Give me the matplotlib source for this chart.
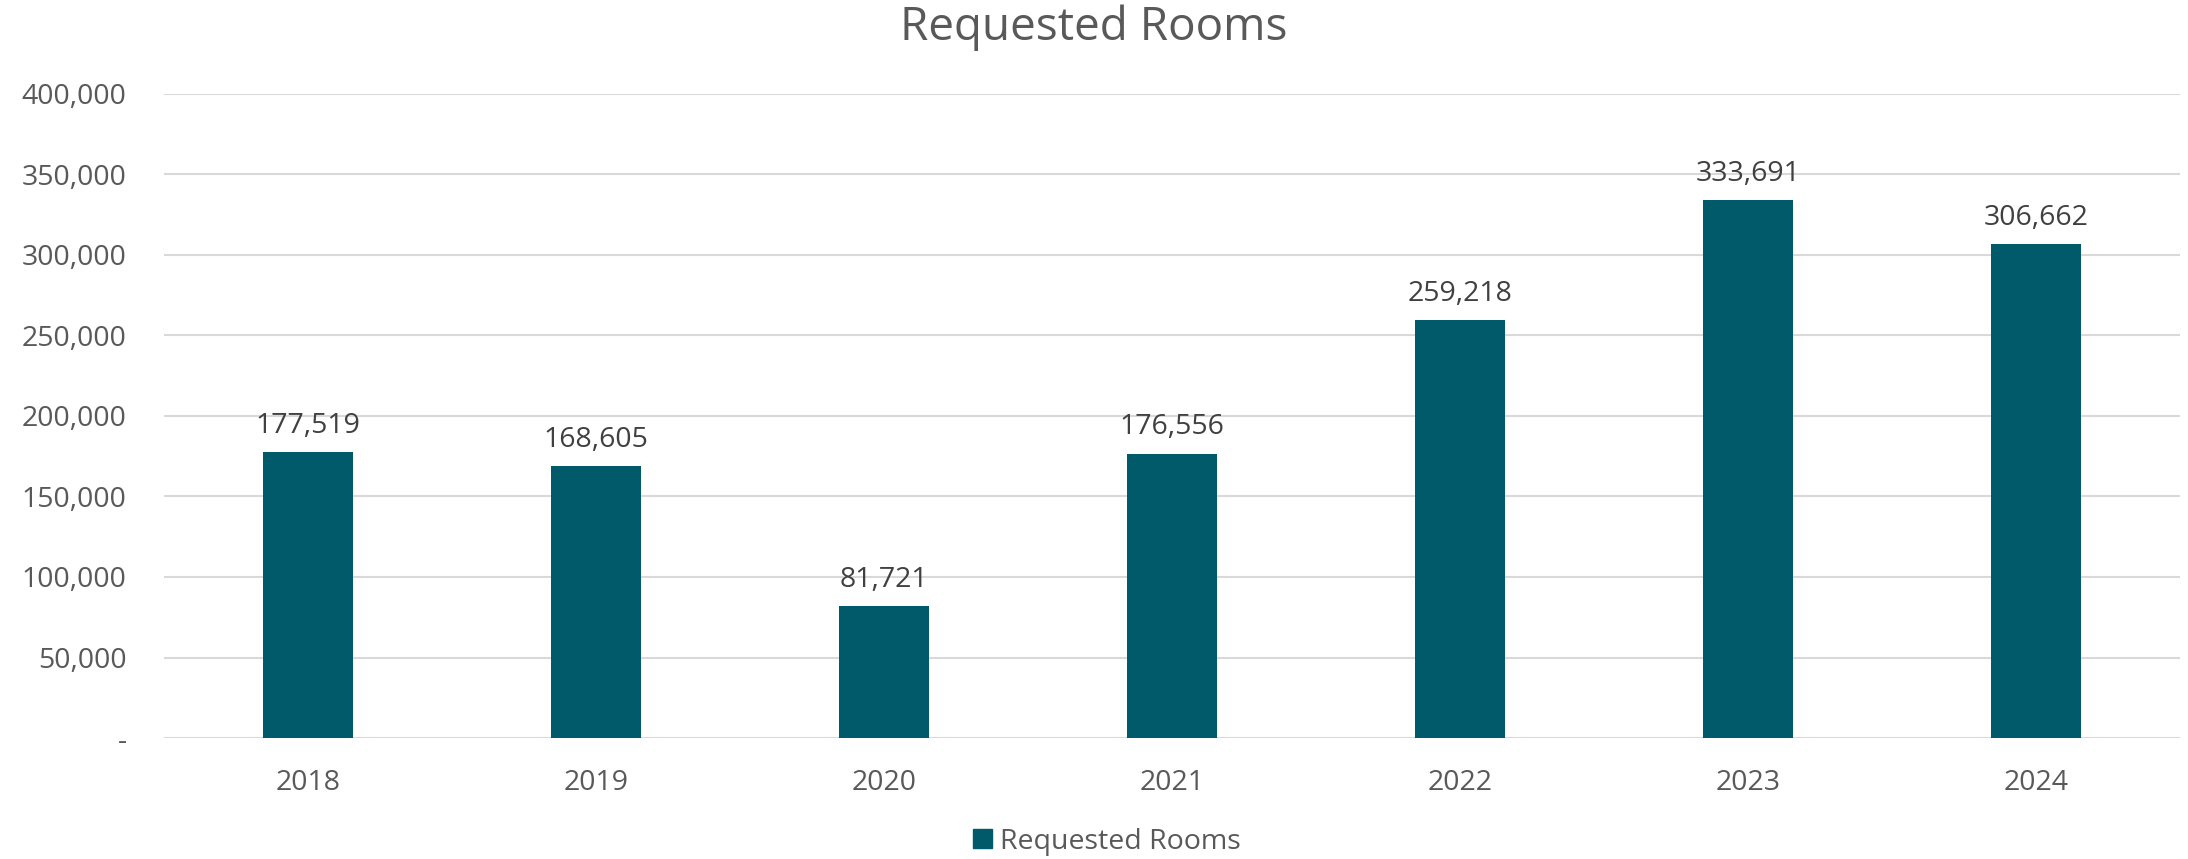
import matplotlib.pyplot as plt
from matplotlib.patches import Patch
from matplotlib.ticker import FuncFormatter

# data
years = ['2018', '2019', '2020', '2021', '2022', '2023', '2024']
requested_rooms = [177519, 168605, 81721, 176556, 259218, 333691, 306662]

bar_color = '#005A69'
grey_text = '#595959'
label_text = '#404040'

plt.rcParams['font.family'] = ['Open Sans', 'DejaVu Sans']

fig = plt.figure(figsize=(21.88, 8.59), dpi=100)
ax = fig.add_axes([0.075, 0.1408, 0.9213, 0.7502])

barras = ax.bar(years, requested_rooms, width=0.31, color=bar_color, zorder=3)

# value labels above the bars
for bar, val in zip(barras, requested_rooms):
    ax.annotate(f'{val:,}', (bar.get_x() + bar.get_width() / 2, bar.get_height()),
                xytext=(0, 14), textcoords='offset points', ha='center', va='baseline',
                fontsize=20.5, color=label_text)

ax.set_xlim(-0.5, len(years) - 0.5)
ax.set_ylim(0, 400000)
ax.set_yticks(range(0, 400001, 50000))
ax.yaxis.set_major_formatter(FuncFormatter(lambda v, p: '-' if v == 0 else f'{int(v):,}'))
ax.grid(axis='y', color='#D9D9D9', linewidth=1.5, zorder=0)
ax.tick_params(axis='y', length=0, pad=27, labelsize=20.5, labelcolor=grey_text)
ax.tick_params(axis='x', length=0, pad=22, labelsize=20.5, labelcolor=grey_text)
for s in ax.spines.values():
    s.set_visible(False)

fig.text(0.5, 0.968, 'Requested Rooms', ha='center', va='center', fontsize=33, color=grey_text)

fig.legend(handles=[Patch(color=bar_color, label='Requested Rooms')], loc='center',
           bbox_to_anchor=(0.506, 0.02), frameon=False, fontsize=20.5,
           handlelength=0.65, handleheight=0.65, handletextpad=0.3, labelcolor=grey_text)

fig.savefig('out.png', dpi=100)
